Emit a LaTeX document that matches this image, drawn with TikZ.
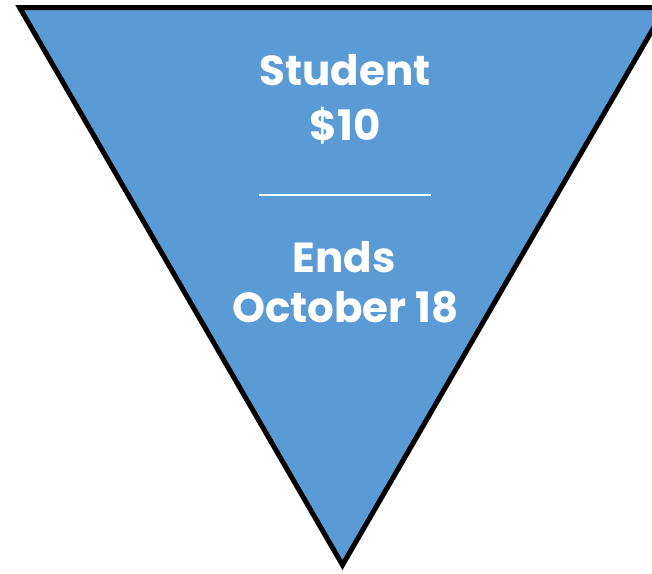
\documentclass[tikz,border=0pt]{standalone}
\usepackage{fontspec}
\setmainfont{Poppins}
\definecolor{triblue}{HTML}{5B9BD5}
\begin{document}
\begin{tikzpicture}[x=1pt,y=-1pt,
  lbl/.style={text=white,font=\fontsize{42}{42}\selectfont\bfseries,anchor=base,inner sep=0pt}]
\useasboundingbox (0,0) rectangle (652,573);
\clip (0,0) rectangle (652,573);
\coordinate (tl) at (19.6,7.5);
\coordinate (tr) at (665.4,7.5);
\coordinate (ap) at (342.5,565);
\draw[fill=triblue,line width=5pt,line join=miter] (tl) -- (tr) -- (ap) -- cycle;
\node[lbl] (s) at (345,85) {Student};
\node[lbl] (p) at (345,140) {\$10};
\coordinate (la) at (259,195);
\coordinate (lb) at (431,195);
\draw[white,line width=2.8pt] (la) -- (lb);
\node[lbl] (e) at (344,272) {Ends};
\node[lbl] (o) at (345.5,322) {October 18};
\end{tikzpicture}
\end{document}
